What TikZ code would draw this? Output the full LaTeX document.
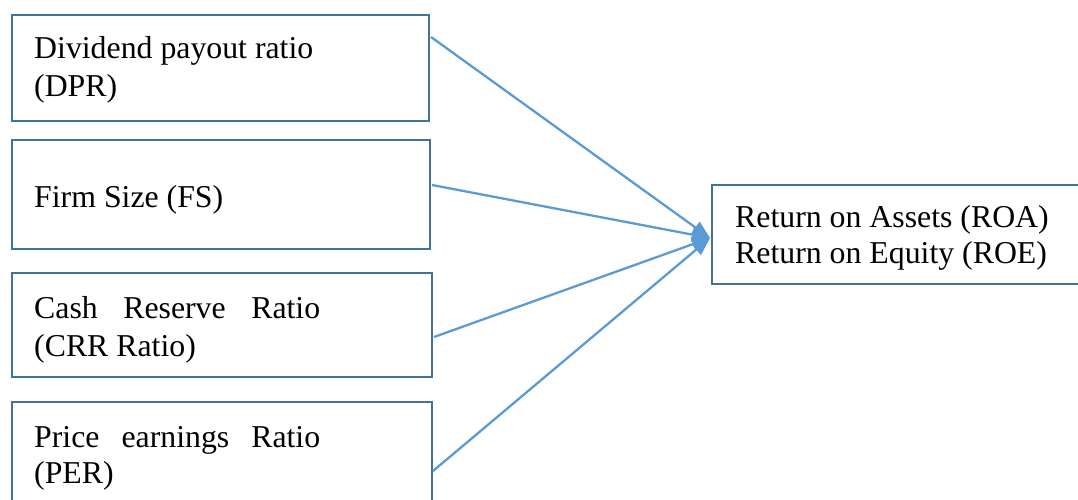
\documentclass[tikz,border=0pt]{standalone}
\usepackage{fontspec}
\setmainfont{Liberation Serif}
\usetikzlibrary{arrows.meta}
\definecolor{boxline}{HTML}{41719C}
\definecolor{conn}{HTML}{5B9BD5}
\begin{document}
\begin{tikzpicture}[x=1pt,y=1pt,
  varbox/.style={draw=boxline, line width=2pt, rectangle, inner sep=0pt},
  txt/.style={anchor=base west, inner sep=0pt, font=\fontsize{31.8pt}{36.5pt}\selectfont},
  link/.style={draw=conn, line width=2.3pt, -{Triangle[length=18pt,width=14pt]}}]
\useasboundingbox (0,0) rectangle (1078,499);
% boxes
\node[varbox, minimum width=417pt, minimum height=106pt] (dpr) at (220.5,431) {};
\node[varbox, minimum width=418pt, minimum height=109pt] (fs) at (221,304.5) {};
\node[varbox, minimum width=420pt, minimum height=104pt] (crr) at (222,174) {};
\node[varbox, minimum width=420pt, minimum height=128pt] (per) at (222,33) {};
\node[varbox, minimum width=378pt, minimum height=99pt] (roa) at (901,264.5) {};
% texts
\node[txt] (t1a) at (34,440) {Dividend payout ratio};
\node[txt] (t1b) at (34,402) {(DPR)};
\node[txt] (t2) at (34,292) {Firm Size (FS)};
\node[txt] (t3a) at (34,181) {\makebox[286pt][l]{Cash\hfill Reserve\hfill Ratio}};
\node[txt] (t3b) at (34,143) {(CRR Ratio)};
\node[txt] (t4a) at (34,52) {\makebox[286pt][l]{Price\hfill earnings\hfill Ratio}};
\node[txt] (t4b) at (34,16) {(PER)};
\node[txt] (t5a) at (735,272) {Return on Assets (ROA)};
\node[txt] (t5b) at (735,236) {Return on Equity (ROE)};
% connectors
\coordinate (tip) at ([xshift=-1pt,yshift=-3.5pt]roa.west);
\draw[link] ([xshift=1pt,yshift=-23pt]dpr.north east) -- (tip);
\draw[link] ([xshift=1pt,yshift=9.5pt]fs.east) -- (tip);
\draw[link] ([xshift=1pt,yshift=-12pt]crr.east) -- (tip);
\draw[link] ([yshift=-5pt]per.east) -- (tip);
\end{tikzpicture}
\end{document}
